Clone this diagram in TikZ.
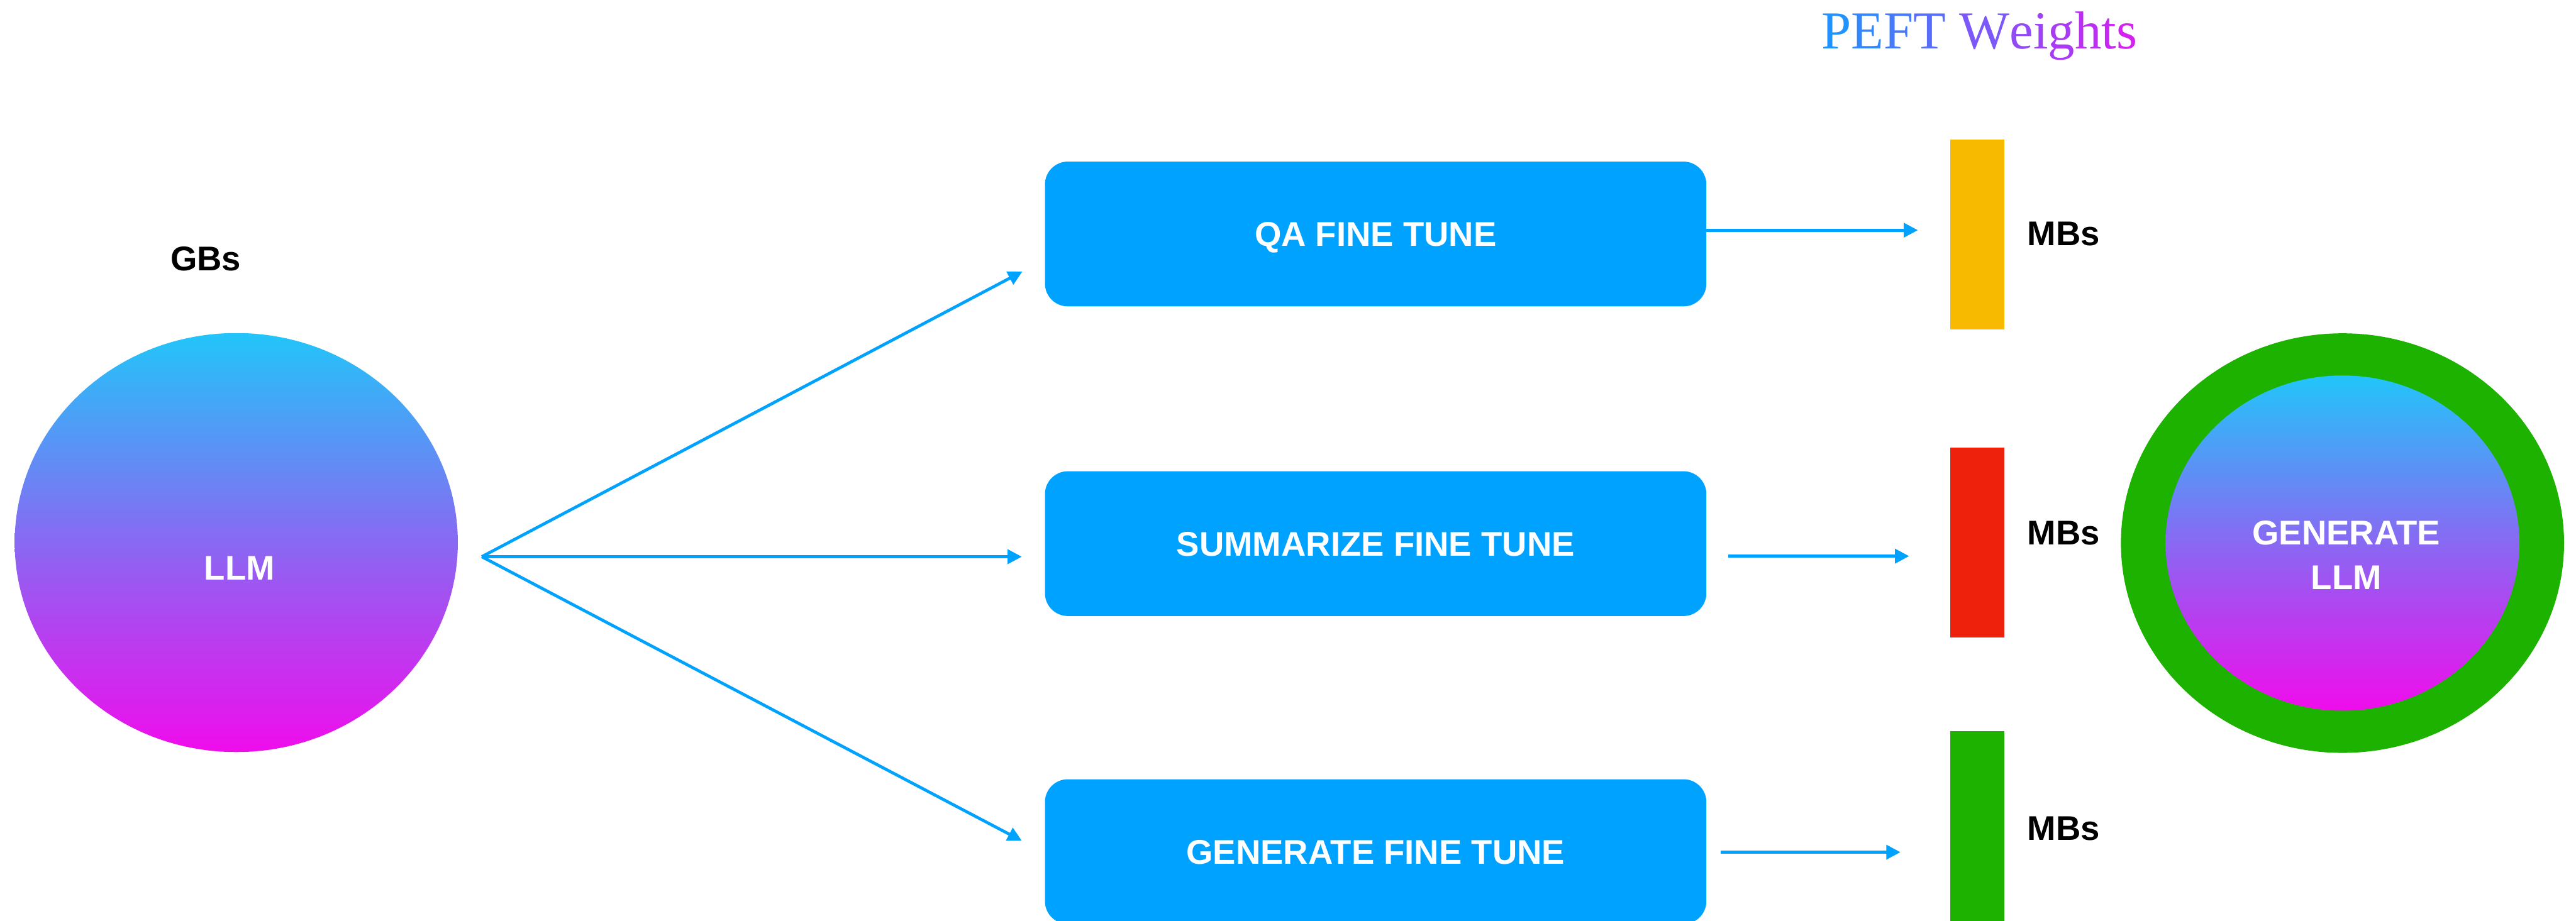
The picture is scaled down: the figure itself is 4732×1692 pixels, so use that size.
\documentclass[tikz,border=0pt]{standalone}
\usepackage{fontspec}
\setmainfont{Liberation Sans}
\newfontfamily\titlefont{Liberation Serif}
\usetikzlibrary{arrows.meta,shapes.geometric}

\definecolor{kblue}{HTML}{00A2FF}
\definecolor{kyellow}{HTML}{F8BA00}
\definecolor{kred}{HTML}{EE220C}
\definecolor{kgreen}{HTML}{1DB100}
\definecolor{gtop}{HTML}{22C5F9}
\definecolor{gbot}{HTML}{F00CEC}
\definecolor{ptL}{HTML}{1798FF}
\definecolor{ptR}{HTML}{D81DF0}

% one letter of the title, tinted #1 percent of the way from blue to magenta
\newcommand\tintletter[2]{\textcolor{ptR!#1!ptL}{#2}}
\newcommand\boldlabel{\bfseries\fontsize{63pt}{82pt}\selectfont}

\tikzset{
  flow/.style={draw=kblue, line width=5.5pt, -{Triangle[length=26pt,width=26pt]}},
  tuner/.style={fill=kblue, rounded corners=42pt, minimum width=1215pt,
    minimum height=266pt, inner sep=0pt, text=white, font=\boldlabel,
    text height=45pt, text depth=0pt},
  bar/.style={minimum width=100pt, minimum height=349pt, inner sep=0pt},
  sizelabel/.style={font=\boldlabel, anchor=base west, inner sep=0pt},
  blob/.style={ellipse, inner sep=0pt, top color=gtop, bottom color=gbot, draw=none},
  whitelabel/.style={font=\boldlabel, text=white, inner sep=0pt, anchor=base, align=center},
}

\begin{document}
\begin{tikzpicture}[x=1pt, y=-1pt]
\useasboundingbox (0,0) rectangle (4732,1692);

% title
\node[font=\titlefont\fontsize{98pt}{100pt}\selectfont, anchor=base, inner sep=0pt] (title) at (3636,90)
  {\tintletter{5}{P}\tintletter{15}{E}\tintletter{24}{F}\tintletter{34}{T} \tintletter{52}{W}\tintletter{63}{e}\tintletter{69}{i}\tintletter{76}{g}\tintletter{85}{h}\tintletter{91}{t}\tintletter{97}{s}};

% base model
\node[blob, minimum width=814pt, minimum height=770pt] (llm) at (434,997) {};
\node[whitelabel] (llmtext) at (440,1066) {LLM};
\node[font=\boldlabel, anchor=base, inner sep=0pt] (gbs) at (378,497) {GBs};

% fine-tuning tasks
\node[tuner] (qa)  at (2527,430)  {QA FINE TUNE};
\node[tuner] (sum) at (2527,999)  {SUMMARIZE FINE TUNE};
\node[tuner] (gen) at (2527,1565) {GENERATE FINE TUNE};

% adapter weights
\node[bar, fill=kyellow] (wqa)  at (3632,430.5)  {};
\node[bar, fill=kred]    (wsum) at (3632,997.5)  {};
\node[bar, fill=kgreen]  (wgen) at (3632,1517.5) {};
\node[sizelabel] (mbqa)  at (3724,451)  {MBs};
\node[sizelabel] (mbsum) at (3724,1001) {MBs};
\node[sizelabel] (mbgen) at (3724,1544) {MBs};

% merged model
\node[ellipse, fill=kgreen, inner sep=0pt, minimum width=814pt, minimum height=771pt] (ring) at (4303,998) {};
\node[blob, minimum width=650pt, minimum height=616pt] (genllm) at (4303,998) {};
% the base anchor of a two-line label sits on its last line
\node[whitelabel] (genllmtext) at (4310,1083) {GENERATE\\LLM};

% connectors
\coordinate (fork) at (885,1023);
\coordinate (qaIn)  at (1878,499);
\coordinate (sumIn) at (1877,1023);
\coordinate (genIn) at (1877,1545);
\draw[flow] (fork) -- (qaIn);
\draw[flow] (fork) -- (sumIn);
\draw[flow] (fork) -- (genIn);

\coordinate (qaOut)  at (3523,423);
\coordinate (sumFrom) at (3175,1022);
\coordinate (sumOut) at (3507,1022);
\coordinate (genFrom) at (3161,1566);
\coordinate (genOut) at (3491,1566);
\draw[flow] (qa.east |- qaOut) -- (qaOut);
\draw[flow] (sumFrom) -- (sumOut);
\draw[flow] (genFrom) -- (genOut);
\end{tikzpicture}
\end{document}
